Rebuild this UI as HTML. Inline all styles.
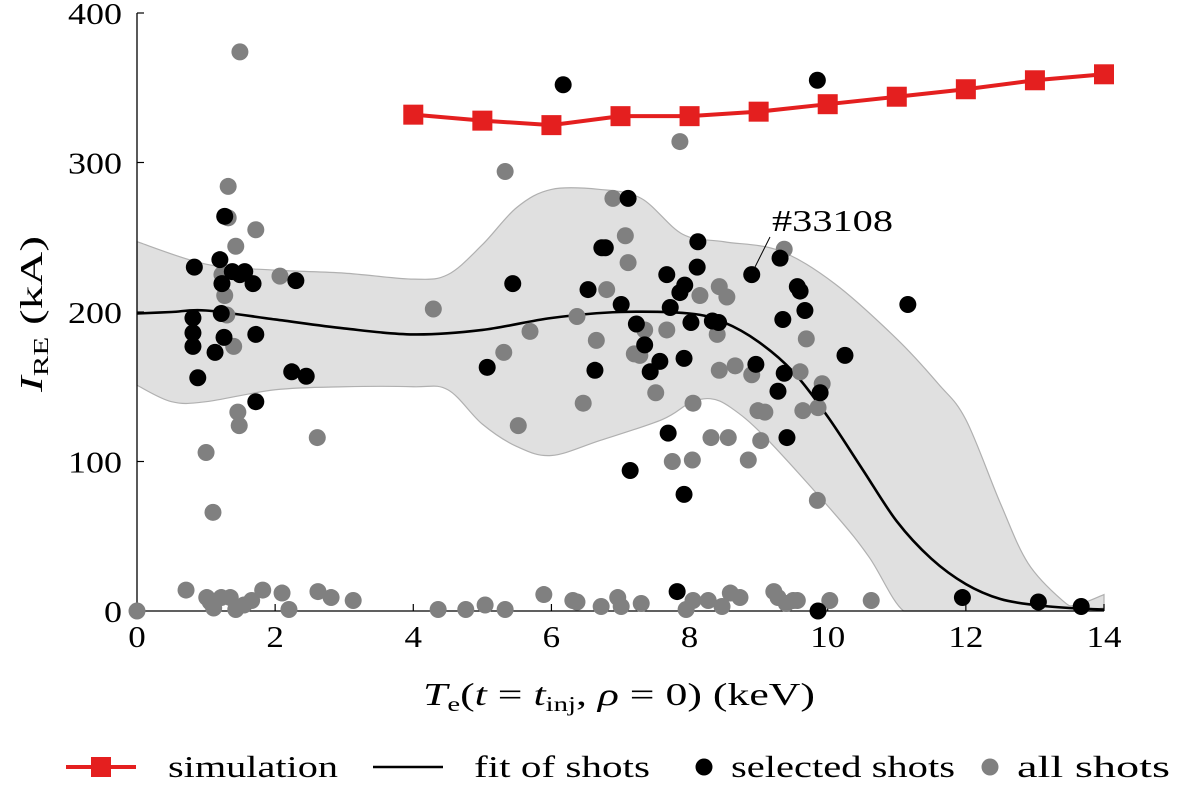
<!DOCTYPE html>
<html><head><meta charset="utf-8"><style>
body{margin:0;background:#fff;}
svg text{font-family:"Liberation Serif",serif;fill:#000;}
</style></head><body>
<svg id="chart" width="1191" height="803" viewBox="0 0 1191 803" xmlns="http://www.w3.org/2000/svg"></svg>
<script>
const xTicks=[0,2,4,6,8,10,12,14];
const yTicks=[0,100,200,300,400];
const simX=[4,5,6,7,8,9,10,11,12,13,14];
const simY=[332,328,325,331,331,334,339,344,349,355,359];
const fitX=[0,0.5,1,2,3,4,5,6,7,8,8.5,9,9.5,10,10.5,11,11.5,12,12.5,13,13.5,14];
const fitY=[199,200,201,195,189,185,188,196,200,199,193,180,160,130,95,60,35,18,8,4,2,1];
const bandX=[0,1,2,3,4,4.5,5,5.5,6,6.7,7.3,7.9,8.5,9.3,10.1,11,11.6,12,12.5,12.9,13.4,13.6,14];
const bandUpper=[247,232,228,226,222,225,245,270,282,282,276,252,247,241,219,182,152,128,72,32,7,4,11];
const bandLowX=[0,0.5,1,2,3,4,4.5,5,5.5,6,6.7,7.6,8.0,8.3,8.6,9.1,10.1,10.6,11.1,11.6,13.2,13.6,14];
const bandLower=[151,140,140,148,150,150,148,125,110,104,114,128,139,142,136,116,65,36,0,0,0,0,2];
const selX=[0.83,0.81,0.81,0.81,0.88,1.13,1.20,1.27,1.23,1.22,1.26,1.38,1.49,1.56,1.68,1.72,1.72,2.30,2.24,2.45,5.07,5.44,6.17,6.53,6.63,6.73,7.01,7.11,7.14,7.23,7.35,7.43,7.57,7.67,7.69,7.72,7.86,7.92,7.93,8.02,8.11,8.33,8.12,8.42,8.90,8.96,9.28,9.31,9.35,9.37,9.41,9.56,9.60,9.67,9.85,9.89,10.25,11.16,11.95,13.05,13.67,9.86,7.82,7.92,6.78];
const selY=[230,196,186,177,156,173,235,264,219,199,183,227,225,227,219,185,140,221,160,157,163,219,352,215,161,243,205,276,94,192,178,160,167,225,119,203,213,78,218,193,230,194,247,193,225,165,147,236,195,159,116,217,214,201,355,146,171,205,9,6,3,0,13,169,243];
const allX=[1.49,1.32,1.32,1.72,1.43,1.23,1.27,1.30,1.40,2.07,1.46,1.48,1.00,1.10,2.61,4.29,5.33,5.31,5.69,5.52,6.89,7.07,7.11,6.80,6.65,6.46,6.37,7.20,7.28,7.35,7.51,7.75,8.04,8.05,7.67,8.15,8.40,8.31,8.43,8.54,8.43,8.66,8.85,8.90,8.99,9.09,9.37,9.69,9.64,9.86,9.85,9.92,9.60,7.86,8.56,9.03,0,0.71,1.01,1.06,1.11,1.22,1.35,1.43,1.55,1.66,1.82,2.10,2.20,2.62,2.81,3.13,4.36,4.76,5.04,5.33,5.89,6.31,6.37,6.72,6.96,7.01,7.30,7.95,8.05,8.27,8.47,8.59,8.73,9.22,9.28,9.40,9.50,9.56,10.03,10.63];
const allY=[374,284,263,255,244,225,211,198,177,224,133,124,106,66,116,202,294,173,187,124,276,251,233,215,181,139,197,172,171,188,146,100,101,139,188,211,185,116,161,210,217,164,101,158,134,133,242,182,134,136,74,152,160,314,116,114,0,14,9,6,2,9,9,1,4,7,14,12,1,13,9,7,1,1,4,1,11,7,6,3,9,3,5,1,7,7,3,12,9,13,9,5,7,7,7,7];

const svg=document.getElementById('chart');
const NS='http://www.w3.org/2000/svg';
const X0=137,X1=1104,Y0=611,Y1=13;
const sx=v=>X0+(X1-X0)*v/14;
const sy=v=>Y0-(Y0-Y1)*v/400;
function mk(tag,attrs,parent){const e=document.createElementNS(NS,tag);for(const k in attrs)e.setAttribute(k,attrs[k]);(parent||svg).appendChild(e);return e;}
function smooth(xs,ys){const p=xs.map((x,i)=>[sx(x),sy(ys[i])]);let d='M'+p[0][0]+','+p[0][1];
for(let i=0;i<p.length-1;i++){const a=p[Math.max(0,i-1)],b=p[i],c=p[i+1],e=p[Math.min(p.length-1,i+2)];
let c1y=b[1]+(c[1]-a[1])/6,c2y=c[1]-(e[1]-b[1])/6;c1y=Math.min(c1y,Y0);c2y=Math.min(c2y,Y0);
d+=' C'+(b[0]+(c[0]-a[0])/6)+','+c1y+' '+(c[0]-(e[0]-b[0])/6)+','+c2y+' '+c[0]+','+c[1];}return d;}

const up=smooth(bandX,bandUpper);
const lowRevX=bandLowX.slice().reverse(),lowRevY=bandLower.slice().reverse();
const lo=smooth(lowRevX,lowRevY).replace(/^M/,' L');
const band=mk('path',{d:up+lo+' Z',fill:'#e0e0e0',stroke:'#b0b0b0','stroke-width':1.2});



const ax=mk('path',{d:`M${X0},${Y1} L${X0},${Y0} L${X1},${Y0}`,fill:'none',stroke:'#000','stroke-width':1.3});


xTicks.forEach(t=>{
  mk('line',{x1:sx(t),x2:sx(t),y1:Y0,y2:Y0-7,stroke:'#000','stroke-width':1.2});
  const s=String(t);
  const tx=mk('text',{x:sx(t),y:647,'text-anchor':'middle','font-size':31,textLength:s.length*17.5,lengthAdjust:'spacingAndGlyphs'});tx.textContent=s;
  
  
});
yTicks.forEach(t=>{
  mk('line',{x1:X0,x2:X0+7,y1:sy(t),y2:sy(t),stroke:'#000','stroke-width':1.2});
  const s=String(t);
  const tx=mk('text',{x:122,y:sy(t)+11,'text-anchor':'end','font-size':31,textLength:s.length*18,lengthAdjust:'spacingAndGlyphs'});tx.textContent=s;
  
  
});

const fit=mk('path',{d:smooth(fitX,fitY),fill:'none',stroke:'#000','stroke-width':2.6});



allX.forEach((x,i)=>{const c=mk('circle',{cx:sx(x),cy:sy(allY[i]),r:8.5,fill:'#808080'});

});
selX.forEach((x,i)=>{const c=mk('circle',{cx:sx(x),cy:sy(selY[i]),r:8.5,fill:'#000'});

});

mk('line',{x1:755,y1:267,x2:770,y2:237,stroke:'#000','stroke-width':1});
const ann=mk('text',{x:772,y:231,'font-size':31,textLength:121,lengthAdjust:'spacingAndGlyphs'});ann.textContent='#33108';



const sl=mk('polyline',{points:simX.map((x,i)=>sx(x)+','+sy(simY[i])).join(' '),fill:'none',stroke:'#e41f1f','stroke-width':4});


simX.forEach((x,i)=>{const r=mk('rect',{x:sx(x)-10,y:sy(simY[i])-10,width:20,height:20,fill:'#e41f1f'});

});

const yt=mk('text',{transform:'translate(42,314) rotate(-90)','text-anchor':'middle','font-size':32,textLength:156,lengthAdjust:'spacingAndGlyphs'});
yt.innerHTML='<tspan font-style="italic">I</tspan><tspan font-size="21" dy="6">RE</tspan><tspan dy="-6"> (kA)</tspan>';


const xt=mk('text',{x:619,y:705,'text-anchor':'middle','font-size':32,textLength:392,lengthAdjust:'spacingAndGlyphs'});
xt.innerHTML='<tspan font-style="italic">T</tspan><tspan font-size="21" dy="6">e</tspan><tspan dy="-6">(</tspan><tspan font-style="italic">t</tspan> = <tspan font-style="italic">t</tspan><tspan font-size="21" dy="6">inj</tspan><tspan dy="-6">, </tspan><tspan font-style="italic">ρ</tspan> = 0) (keV)';



const lg=mk('g',{});


mk('line',{x1:66,x2:136,y1:767,y2:767,stroke:'#e41f1f','stroke-width':4},lg);
mk('rect',{x:91,y:757,width:20,height:20,fill:'#e41f1f'},lg);
let t1=mk('text',{x:168,y:777,'font-size':31,textLength:170,lengthAdjust:'spacingAndGlyphs'},lg);t1.textContent='simulation';
mk('line',{x1:373,x2:443,y1:767,y2:767,stroke:'#000','stroke-width':2.6},lg);
let t2=mk('text',{x:474,y:777,'font-size':31,textLength:176,lengthAdjust:'spacingAndGlyphs'},lg);t2.textContent='fit of shots';
mk('circle',{cx:704,cy:767,r:8.5,fill:'#000'},lg);
let t3=mk('text',{x:731,y:777,'font-size':31,textLength:224,lengthAdjust:'spacingAndGlyphs'},lg);t3.textContent='selected shots';
mk('circle',{cx:990,cy:767,r:8.5,fill:'#808080'},lg);
let t4=mk('text',{x:1017,y:777,'font-size':31,textLength:153,lengthAdjust:'spacingAndGlyphs'},lg);t4.textContent='all shots';
</script>
</body></html>
